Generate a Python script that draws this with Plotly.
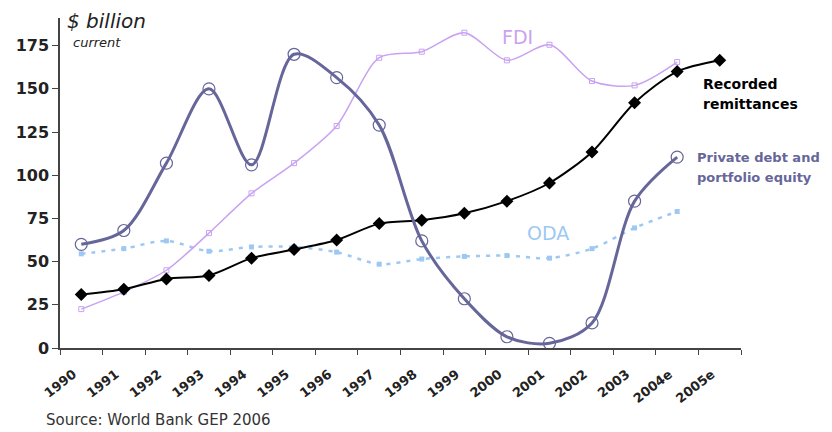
import plotly.graph_objects as go

years = ['1990', '1991', '1992', '1993', '1994', '1995', '1996', '1997',
         '1998', '1999', '2000', '2001', '2002', '2003', '2004e', '2005e']

remittances = [31, 34, 40, 42, 52, 57, 62.5, 72, 74, 78, 85, 95.5, 113.5, 142, 160, 166.5]
fdi = [22.5, 32.5, 45, 66.5, 89.5, 107, 128.5, 168, 171.5, 182.5, 166.5, 175.5, 154.5, 152, 165.5]
private_debt = [60, 68, 107, 150, 106, 170, 156.5, 129, 62, 28.5, 6.5, 2.7, 14.5, 85, 110.5]
oda = [54.5, 57.5, 62, 56, 58.5, 58.5, 55.5, 48.5, 51.5, 53, 53.5, 52, 57.5, 69.5, 79]

# the source image is stretched sideways, so a wide face fits better than Arial
FONT = 'DejaVu Sans, Arial, sans-serif'
C_PRIV = '#66669a'
C_FDI = '#c9a2f2'
C_ODA = '#9cc8f2'

# page body has an 8px margin, so the figure is laid out 8px left/up of the page
OFF = 8
L, R, T, B = 60 - OFF, 832 - 741 + OFF, 18 - OFF, 432 - 348 + OFF

fig = go.Figure()
fig.add_trace(go.Scatter(x=years[:15], y=oda, mode='lines+markers', name='ODA',
                         line=dict(color=C_ODA, width=2.5, dash='4px,6px', shape='spline', smoothing=0.8),
                         marker=dict(symbol='square', size=5, color=C_ODA)))
fig.add_trace(go.Scatter(x=years[:15], y=fdi, mode='lines+markers', name='FDI',
                         line=dict(color=C_FDI, width=1.5, shape='spline', smoothing=0.8),
                         marker=dict(symbol='square-open', size=5, color=C_FDI)))
fig.add_trace(go.Scatter(x=years, y=remittances, mode='lines+markers', name='Recorded remittances',
                         line=dict(color='black', width=2, shape='spline', smoothing=0.8),
                         marker=dict(symbol='diamond', size=10, color='black')))
fig.add_trace(go.Scatter(x=years[:15], y=private_debt, mode='lines+markers', name='Private debt',
                         line=dict(color=C_PRIV, width=3, shape='spline', smoothing=0.9),
                         marker=dict(symbol='circle-open', size=12, color=C_PRIV, line=dict(width=1.2))))

fig.update_layout(
    width=832, height=432, showlegend=False,
    margin=dict(l=L, r=R, t=T, b=B),
    paper_bgcolor='white', plot_bgcolor='white',
    font=dict(family=FONT, color='#222222'),
    xaxis=dict(type='category', categoryorder='array', categoryarray=years,
               range=[-0.5, 15.5], tickson='boundaries', ticks='outside', ticklen=5,
               tickcolor='#444', showline=True, linecolor='#444', linewidth=1.5,
               showgrid=False, tickangle=-38, automargin=False,
               ticklabelstandoff=12, ticklabelshift=-8,
               tickfont=dict(family=FONT, size=13, color='#222', weight='bold')),
    yaxis=dict(range=[0, 191], tickvals=[0, 25, 50, 75, 100, 125, 150, 175],
               ticks='outside', ticklen=6, tickcolor='#444', showline=True,
               linecolor='#444', linewidth=1.5, showgrid=False, zeroline=False,
               automargin=False,
               tickfont=dict(family=FONT, size=16, color='#222', weight='bold')),
)

# positions in page pixels, converted to plot-area paper coordinates
annotations = [
    dict(text='<i>$ billion</i>', x=65, y=21, size=20, color='#222', bold=False),
    dict(text='<i>current</i>', x=71, y=42, size=13, color='#222', bold=False),
    dict(text='FDI', x=500, y=37, size=19, color=C_FDI, bold=False),
    dict(text='ODA', x=525, y=233, size=19, color=C_ODA, bold=False),
    dict(text='Recorded', x=701, y=84, size=14, color='black', bold=True),
    dict(text='remittances', x=701, y=104, size=14, color='black', bold=True),
    dict(text='Private debt and', x=695, y=157, size=13, color=C_PRIV, bold=True),
    dict(text='portfolio equity', x=695, y=177, size=13, color=C_PRIV, bold=True),
    dict(text='Source: World Bank GEP 2006', x=44, y=420, size=15, color='#333', bold=False),
]
for a in annotations:
    txt = '<b>' + a['text'] + '</b>' if a['bold'] else a['text']
    fig.add_annotation(text=txt, x=(a['x'] - 60) / 681, y=(348 - a['y']) / 330,
                       xref='paper', yref='paper',
                       xanchor='left', yanchor='middle', showarrow=False, align='left',
                       font=dict(family=FONT, size=a['size'], color=a['color']))

fig.write_html("out.html")
